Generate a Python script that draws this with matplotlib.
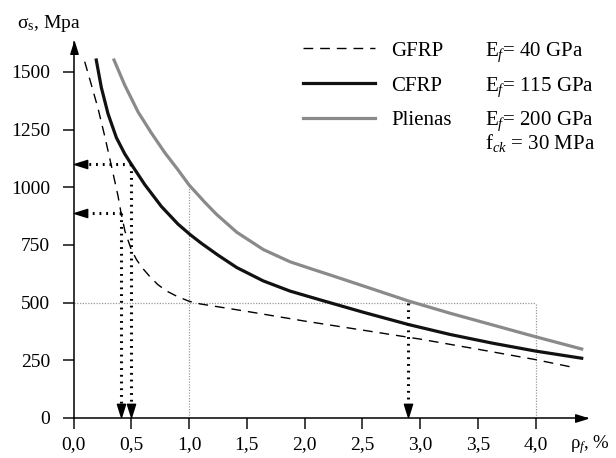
import numpy as np
import matplotlib
matplotlib.use("Agg")
import matplotlib.pyplot as plt
from matplotlib.path import Path
from matplotlib.lines import Line2D

plt.rcParams["font.family"] = ["Liberation Serif", "DejaVu Serif"]
plt.rcParams["mathtext.fontset"] = "custom"
plt.rcParams["mathtext.rm"] = "Liberation Serif"
plt.rcParams["mathtext.it"] = "Liberation Serif:italic"

# ---- data -------------------------------------------------------------------
gfrp_x = [0.097, 0.154, 0.212, 0.27, 0.327, 0.385, 0.41, 0.446, 0.50, 0.547, 0.60, 0.662,
          0.73, 0.807, 0.90, 1.0, 1.1, 1.5, 2.0, 2.5, 3.0, 3.5, 4.0, 4.30]
gfrp_y = [1544, 1445, 1342, 1222, 1095, 963, 893, 808, 730, 685, 648, 612,
          578, 550, 526, 506, 494, 462, 420, 381, 342, 298, 253, 222]

cfrp_x = [0.197, 0.241, 0.299, 0.371, 0.443, 0.50, 0.616, 0.76, 0.905, 1.009, 1.107, 1.25,
          1.413, 1.643, 1.874, 2.134, 2.51, 2.90, 3.26, 3.63, 4.0, 4.40]
cfrp_y = [1551, 1432, 1318, 1215, 1145, 1100, 1012, 917, 840, 795, 757, 706,
          652, 594, 550, 512, 458, 405, 362, 324, 290, 259]

steel_x = [0.351, 0.443, 0.558, 0.674, 0.79, 0.905, 1.0, 1.136, 1.237, 1.413, 1.643, 1.874,
           2.048, 2.22, 2.51, 2.90, 3.26, 3.63, 4.0, 4.40]
steel_y = [1551, 1443, 1327, 1235, 1150, 1075, 1010, 935, 883, 805, 730, 677,
           648, 620, 572, 507, 454, 403, 352, 299]

x_ticks = [0.0, 0.5, 1.0, 1.5, 2.0, 2.5, 3.0, 3.5, 4.0]
x_labels = ["0,0", "0,5", "1,0", "1,5", "2,0", "2,5", "3,0", "3,5", "4,0"]
y_ticks = [0, 250, 500, 750, 1000, 1250, 1500]

# reading lines: (rho, sigma) picked off the curves
reads = [(0.41, 890), (0.50, 1100)]
read_down = (2.90, 500)
guide_x1 = (1.0, 1010)       # vertical guide up to steel curve
guide_500 = (4.0, 500)       # box: horizontal at 500 up to rho = 4.0

legend_rows = [("GFRP", r"E$_f$= 40 GPa"), ("CFRP", r"E$_f$= 115 GPa"), ("Plienas", r"E$_f$= 200 GPa")]

# ---- figure -----------------------------------------------------------------
W, H = 616, 458
fig = plt.figure(figsize=(W / 100, H / 100), dpi=100)
x0, y0 = 73.5, 418.0
sx, sy = 115.5, 57.7 / 250
XMAX, YMAX = 4.45, 1630
ax = fig.add_axes([x0 / W, (H - y0) / H, XMAX * sx / W, YMAX * sy / H])
ax.set_xlim(0, XMAX)
ax.set_ylim(0, YMAX)

for s in ("top", "right"):
    ax.spines[s].set_visible(False)
for s in ("left", "bottom"):
    ax.spines[s].set_linewidth(1.1)

ax.set_xticks(x_ticks)
ax.set_xticklabels(x_labels)
ax.set_yticks(y_ticks)
ax.tick_params(direction="out", length=8, width=1.3, color="#333333",
               labelsize=14, pad=5)
ax.tick_params(axis="y", pad=9)

# arrowheads
def tri(direction):
    v = {"left": [(0, 0), (2, 0.62), (2, -0.62), (0, 0)],
         "right": [(0, 0), (-2, 0.62), (-2, -0.62), (0, 0)],
         "down": [(0, 0), (0.62, 2), (-0.62, 2), (0, 0)],
         "up": [(0, 0), (0.62, -2), (-0.62, -2), (0, 0)]}[direction]
    return Path(v, [Path.MOVETO, Path.LINETO, Path.LINETO, Path.CLOSEPOLY])

ax.plot([XMAX], [0], marker=tri("right"), ms=17, color="k", clip_on=False, zorder=6)
ax.plot([0], [YMAX], marker=tri("up"), ms=17, color="k", clip_on=False, zorder=6)

# light dotted guides
gcol = "#9a9a9a"
gls = (0, (1, 1.2))
ax.plot([guide_x1[0], guide_x1[0]], [0, guide_x1[1]], ls=gls, lw=0.9, color=gcol, zorder=1)
ax.plot([0, guide_500[0]], [guide_500[1], guide_500[1]], ls=gls, lw=0.9, color=gcol, zorder=1)
ax.plot([guide_500[0], guide_500[0]], [0, guide_500[1]], ls=gls, lw=0.9, color=gcol, zorder=1)

# curves
ax.plot(gfrp_x, gfrp_y, color="k", lw=1.0, ls=(0, (7, 5)), zorder=3)
ax.plot(cfrp_x, cfrp_y, color="#111111", lw=2.3, zorder=4)
ax.plot(steel_x, steel_y, color="#8a8a8a", lw=2.3, zorder=4)

# black dotted reading arrows
dot = (0, (0.6, 1.6))
for rx, ry in reads:
    ax.plot([rx, 0.07], [ry, ry], color="k", lw=2.2, ls=dot, zorder=5)
    ax.plot([rx, rx], [ry, 40], color="k", lw=2.2, ls=dot, zorder=5)
    ax.plot([0.005], [ry], marker=tri("left"), ms=19, color="k", clip_on=False, zorder=6)
    ax.plot([rx], [3], marker=tri("down"), ms=19, color="k", clip_on=False, zorder=6)
ax.plot([read_down[0], read_down[0]], [read_down[1], 40], color="k", lw=2.2, ls=dot, zorder=5)
ax.plot([read_down[0]], [3], marker=tri("down"), ms=19, color="k", clip_on=False, zorder=6)

# axis titles
fig.text(17 / W, 1 - 28 / H, r"σ$_\mathrm{s}$, Mpa", fontsize=14, ha="left", va="baseline")
fig.text(610 / W, 1 - 448 / H, r"ρ$_f$, %", fontsize=13.5, ha="right", va="baseline")

# legend, drawn by hand
row_y = [48.3, 83.3, 117.7]
styles = [dict(color="k", lw=1.0, ls=(0, (7, 5))),
          dict(color="#111111", lw=2.3),
          dict(color="#8a8a8a", lw=2.3)]
for (name, mod), yy, st in zip(legend_rows, row_y, styles):
    fig.add_artist(Line2D([303 / W, 375 / W], [1 - yy / H, 1 - yy / H], **st))
    fig.text(391 / W, 1 - (yy + 7.5) / H, name, fontsize=15, ha="left", va="baseline")
    fig.text(485 / W, 1 - (yy + 7.5) / H, mod, fontsize=15, ha="left", va="baseline")
fig.text(485 / W, 1 - 149 / H, r"f$_{ck}$ = 30 MPa", fontsize=15, ha="left", va="baseline")

fig.savefig("out.png", dpi=100)
